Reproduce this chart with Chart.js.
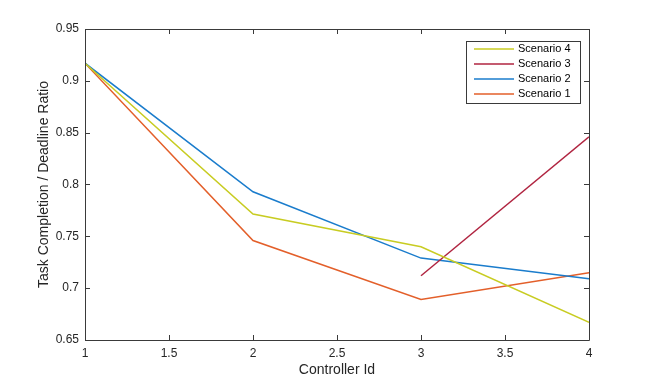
<!DOCTYPE html>
<html><head><meta charset="utf-8">
<script src="https://cdn.jsdelivr.net/npm/chart.js@4/dist/chart.umd.min.js"></script>
<style>html,body{margin:0;padding:0;background:#fff}#wrap{width:651px;height:382px}</style>
</head><body><div id="wrap"><canvas id="c" width="651" height="382"></canvas></div>
<script>
const controllerIds = [1, 2, 3, 4];
const scenario1 = [0.917, 0.746, 0.689, 0.715];
const scenario2 = [0.917, 0.793, 0.729, 0.709];
const scenario3 = [null, null, 0.712, 0.846];
const scenario4 = [0.917, 0.7715, 0.740, 0.667];
const xTicks = [1, 1.5, 2, 2.5, 3, 3.5, 4];
const yTicks = [0.65, 0.7, 0.75, 0.8, 0.85, 0.9, 0.95];
const seriesNames = ['Scenario 4', 'Scenario 3', 'Scenario 2', 'Scenario 1'];
const xTitle = 'Controller Id';
const yTitle = 'Task Completion / Deadline Ratio';

const FONT = '"Liberation Sans", Arial, sans-serif';
function pts(arr){ return controllerIds.map((x,i)=>({x:x,y:arr[i]})); }

const boxPlugin = {
  id:'box',
  afterDatasetsDraw(chart){
    const ctx = chart.ctx, a = chart.chartArea;
    const xs = chart.scales.x, ys = chart.scales.y;
    ctx.save();
    ctx.strokeStyle = '#3a3a3a'; ctx.lineWidth = 1;
    ctx.beginPath();
    ctx.rect(Math.round(a.left)+0.5, Math.round(a.top)+0.5, Math.round(a.right-a.left), Math.round(a.bottom-a.top));
    ctx.stroke();
    ctx.beginPath();
    const tl = 5;
    xTicks.forEach(v=>{
      const px = Math.round(xs.getPixelForValue(v))+0.5;
      ctx.moveTo(px, a.bottom); ctx.lineTo(px, a.bottom-tl);
      ctx.moveTo(px, a.top); ctx.lineTo(px, a.top+tl);
    });
    yTicks.forEach(v=>{
      const py = Math.round(ys.getPixelForValue(v))+0.5;
      ctx.moveTo(a.left, py); ctx.lineTo(a.left+tl, py);
      ctx.moveTo(a.right, py); ctx.lineTo(a.right-tl, py);
    });
    ctx.stroke();
    // axis titles
    ctx.fillStyle = '#262626';
    ctx.font = '14px ' + FONT;
    ctx.textAlign = 'center'; ctx.textBaseline = 'middle';
    ctx.fillText(xTitle, (a.left+a.right)/2, 370);
    ctx.save();
    ctx.translate(44, (a.top+a.bottom)/2);
    ctx.rotate(-Math.PI/2);
    ctx.fillText(yTitle, 0, 0);
    ctx.restore();
    // legend
    const lx = 466, ly = 41, lw = 114, lh = 62;
    ctx.fillStyle = '#fff';
    ctx.fillRect(lx, ly, lw, lh);
    ctx.strokeStyle = '#3a3a3a'; ctx.lineWidth = 1;
    ctx.strokeRect(lx+0.5, ly+0.5, lw, lh);
    ctx.font = '11px ' + FONT;
    ctx.textAlign = 'left'; ctx.textBaseline = 'middle';
    seriesNames.forEach((name,i)=>{
      const ds = chart.data.datasets.find(d=>d.label===name);
      const yy = ly + 8 + i*15;
      ctx.strokeStyle = ds.borderColor; ctx.lineWidth = 1.5;
      ctx.beginPath(); ctx.moveTo(lx+8, yy); ctx.lineTo(lx+48, yy); ctx.stroke();
      ctx.fillStyle = '#000';
      ctx.fillText(name, lx+52, yy);
    });
    ctx.restore();
  }
};

new Chart(document.getElementById('c'), {
  type:'line',
  data:{ datasets:[
    {label:'Scenario 4', data:pts(scenario4), borderColor:'#c8cc22'},
    {label:'Scenario 3', data:pts(scenario3), borderColor:'#b02440'},
    {label:'Scenario 2', data:pts(scenario2), borderColor:'#1a7ccc'},
    {label:'Scenario 1', data:pts(scenario1), borderColor:'#e35f2a'}
  ].map(d=>Object.assign(d,{borderWidth:1.5,pointRadius:0,tension:0,fill:false,spanGaps:false}))},
  options:{
    responsive:false, animation:false, devicePixelRatio:1,
    layout:{padding:{left:0,right:62,top:29,bottom:0}},
    plugins:{legend:{display:false}, tooltip:{enabled:false}},
    scales:{
      x:{type:'linear', min:1, max:4,
        afterBuildTicks(s){ s.ticks = xTicks.map(v=>({value:v})); },
        afterFit(s){ s.height = 42; },
        grid:{display:false, drawTicks:false}, border:{display:false},
        ticks:{font:{family:FONT,size:12}, color:'#262626', padding:6, maxRotation:0,
          callback:v=>String(v)},
        title:{display:false}
      },
      y:{type:'linear', min:0.65, max:0.95,
        afterBuildTicks(s){ s.ticks = yTicks.map(v=>({value:v})); },
        afterFit(s){ s.width = 85; },
        grid:{display:false, drawTicks:false}, border:{display:false},
        ticks:{font:{family:FONT,size:12}, color:'#262626', padding:6,
          callback:v=>String(Math.round(v*100)/100)},
        title:{display:false}
      }
    }
  },
  plugins:[boxPlugin]
});
</script></body></html>
